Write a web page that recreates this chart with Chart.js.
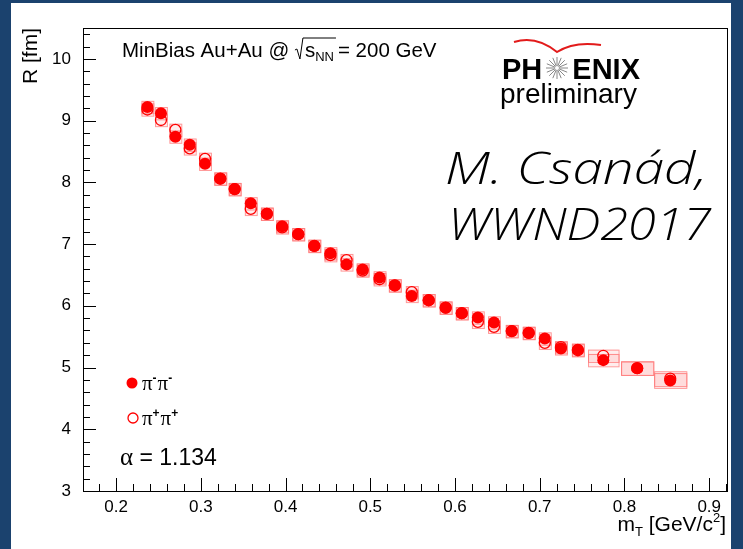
<!DOCTYPE html>
<html>
<head>
<meta charset="utf-8">
<script src="https://cdn.jsdelivr.net/npm/chart.js@4"></script>
<style>
  html, body { margin: 0; padding: 0; background: #1b426e; }
  canvas { display: block; }
</style>
</head>
<body>
<canvas id="chart-hbt" width="743" height="549"></canvas>
<script>
/* data */
const mtValues = [0.237, 0.253, 0.270, 0.287, 0.305, 0.323, 0.340, 0.359, 0.378, 0.396,
  0.415, 0.434, 0.453, 0.472, 0.491, 0.511, 0.529, 0.549, 0.569, 0.589,
  0.608, 0.627, 0.646, 0.667, 0.687, 0.706, 0.725, 0.745, 0.775, 0.815, 0.854];
const rPiMinus = [9.22, 9.12, 8.74, 8.61, 8.30, 8.06, 7.89, 7.66, 7.49, 7.29,
  7.16, 6.97, 6.85, 6.67, 6.59, 6.46, 6.33, 6.16, 6.09, 5.97,
  5.88, 5.81, 5.73, 5.59, 5.56, 5.47, 5.31, 5.29, 5.12, 4.99, 4.79];
const rPiPlus = [9.18, 9.01, 8.85, 8.55, 8.38, 8.06, 7.89, 7.57, 7.49, 7.27,
  7.16, 6.97, 6.82, 6.74, 6.57, 6.43, 6.33, 6.22, 6.09, 5.97,
  5.88, 5.74, 5.66, 5.59, 5.56, 5.40, 5.33, 5.28, 5.19, 4.99, 4.82];
// systematic boxes (half widths)
const sysMt = [0.007, 0.007, 0.007, 0.007, 0.007, 0.007, 0.007, 0.007, 0.007, 0.007,
  0.007, 0.007, 0.007, 0.007, 0.007, 0.007, 0.007, 0.007, 0.007, 0.007,
  0.007, 0.007, 0.007, 0.007, 0.007, 0.007, 0.007, 0.007, 0.018, 0.019, 0.019];
const sysR = [0.10, 0.10, 0.10, 0.10, 0.10, 0.10, 0.10, 0.10, 0.10, 0.10,
  0.10, 0.10, 0.10, 0.10, 0.10, 0.10, 0.10, 0.10, 0.10, 0.10,
  0.10, 0.10, 0.10, 0.10, 0.10, 0.10, 0.10, 0.10, 0.10, 0.11, 0.12];

const xTicks = [0.2, 0.3, 0.4, 0.5, 0.6, 0.7, 0.8, 0.9];
const yTicks = [3, 4, 5, 6, 7, 8, 9, 10];
const xRange = [0.161, 0.921];
const yRange = [3, 10.5];

const RED = '#ff0000';
const SANS = "'Liberation Sans', Arial, sans-serif";
const SERIF = "'Liberation Serif', 'Times New Roman', serif";

Chart.defaults.font.family = SANS;
Chart.defaults.color = '#000';

// blue frame + white pad
const backgroundPlugin = {
  id: 'bg',
  beforeDraw(chart) {
    const c = chart.ctx;
    c.save();
    c.fillStyle = '#1b426e';
    c.fillRect(0, 0, chart.width, chart.height);
    c.fillStyle = '#fff';
    c.fillRect(11, 3, 720, 546);
    c.restore();
  }
};

// pink systematic boxes, drawn through the scales
const sysBoxPlugin = {
  id: 'sysBoxes',
  beforeDatasetsDraw(chart) {
    const c = chart.ctx;
    const xs = chart.scales.x, ys = chart.scales.y;
    c.save();
    c.lineWidth = 1;
    [rPiMinus, rPiPlus].forEach(series => {
      series.forEach((r, i) => {
        const x0 = xs.getPixelForValue(mtValues[i] - sysMt[i]);
        const x1 = xs.getPixelForValue(mtValues[i] + sysMt[i]);
        const y0 = ys.getPixelForValue(r + sysR[i]);
        const y1 = ys.getPixelForValue(r - sysR[i]);
        c.fillStyle = 'rgba(255,0,0,0.07)';
        c.fillRect(x0, y0, x1 - x0, y1 - y0);
        c.strokeStyle = 'rgba(255,120,120,0.75)';
        c.strokeRect(x0 + 0.5, y0 + 0.5, x1 - x0, y1 - y0);
      });
    });
    c.restore();
  }
};

// ROOT style frame with inside ticks
const framePlugin = {
  id: 'frame',
  afterDraw(chart) {
    const c = chart.ctx;
    const a = chart.chartArea;
    const xs = chart.scales.x, ys = chart.scales.y;
    c.save();
    c.strokeStyle = '#000';
    c.lineWidth = 1;
    c.strokeRect(a.left + 0.5, a.top + 0.5, a.right - a.left, a.bottom - a.top);
    c.beginPath();
    for (let k = 0; k <= 37; k++) {
      const v = 3 + k * 0.2;
      if (v > yRange[1]) break;
      const y = Math.round(ys.getPixelForValue(v)) + 0.5;
      const len = (Math.abs(v - Math.round(v)) < 1e-6) ? 13 : 7;
      c.moveTo(a.left, y);
      c.lineTo(a.left + len, y);
    }
    for (let k = 0; k <= 40; k++) {
      const v = 0.16 + k * 0.02;
      if (v > xRange[1]) break;
      if (v < xRange[0]) continue;
      const x = Math.round(xs.getPixelForValue(v)) + 0.5;
      const major = Math.abs(v * 10 - Math.round(v * 10)) < 1e-6;
      c.moveTo(x, a.bottom);
      c.lineTo(x, a.bottom - (major ? 13 : 7));
    }
    c.stroke();
    c.restore();
  }
};

// labels, logo, legend and annotations
const textPlugin = {
  id: 'texts',
  afterDraw(chart) {
    const c = chart.ctx;
    c.save();
    c.fillStyle = '#000';
    c.textBaseline = 'alphabetic';
    c.textAlign = 'left';

    // y title, rotated, anchored at the top of the axis
    c.save();
    c.translate(37, 28);
    c.rotate(-Math.PI / 2);
    c.textAlign = 'right';
    c.font = `21px ${SANS}`;
    c.fillText('R [fm]', 0, 0);
    c.restore();

    // x title: m_T [GeV/c^2], right aligned
    const big = `21px ${SANS}`, small = `13px ${SANS}`;
    const parts = [['m', big, 0], ['T', small, 5], [' [GeV/c', big, 0], ['2', small, -9], [']', big, 0]];
    let total = 0;
    parts.forEach(p => { c.font = p[1]; total += c.measureText(p[0]).width; });
    let px = 726 - total;
    parts.forEach(p => { c.font = p[1]; c.fillText(p[0], px, 531 + p[2]); px += c.measureText(p[0]).width; });

    // MinBias Au+Au @ sqrt(s_NN) = 200 GeV
    const f1 = `20.5px ${SANS}`, f2 = `13px ${SANS}`;
    let tx = 122, base = 57;
    c.font = f1;
    c.fillText('MinBias Au+Au @ ', tx, base);
    tx += c.measureText('MinBias Au+Au @ ').width;
    const sW = c.measureText('s').width;
    c.font = f2;
    const nnW = c.measureText('NN').width;
    c.beginPath();
    c.lineWidth = 1;
    c.moveTo(tx, base - 7);
    c.lineTo(tx + 2, base - 8);
    c.lineTo(tx + 5, base + 2);
    c.lineTo(tx + 8, base - 19);
    c.lineTo(tx + 10 + sW + nnW + 2, base - 19);
    c.stroke();
    tx += 10;
    c.font = f1;
    c.fillText('s', tx, base);
    tx += sW;
    c.font = f2;
    c.fillText('NN', tx, base + 4);
    tx += nnW + 4;
    c.font = f1;
    c.fillText('= 200 GeV', tx, base);

    // PHENIX logo
    c.strokeStyle = '#e21b1b';
    c.lineWidth = 2;
    c.beginPath();
    c.moveTo(514, 42);
    c.quadraticCurveTo(536, 35, 557, 52);
    c.quadraticCurveTo(574, 41, 601, 45);
    c.stroke();
    c.font = `bold 29px ${SANS}`;
    c.fillText('PH', 502, 79);
    c.textAlign = 'right';
    c.fillText('ENIX', 640, 79);
    c.textAlign = 'left';
    c.strokeStyle = '#888';
    c.lineWidth = 1;
    c.beginPath();
    for (let k = 0; k < 16; k++) {
      const ang = k * Math.PI / 8;
      c.moveTo(557 + 2 * Math.cos(ang), 68 + 2 * Math.sin(ang));
      c.lineTo(557 + 11 * Math.cos(ang), 68 + 11 * Math.sin(ang));
    }
    c.stroke();
    c.font = `28px ${SANS}`;
    c.fillText('preliminary', 500, 103);

    // author stamp, stretched to the reference width
    const stamp = (txt, x0, x1, y) => {
      c.font = `italic 300 45px 'Open Sans', 'DejaVu Sans', sans-serif`;
      const w = c.measureText(txt).width;
      c.save();
      c.translate(x0, y);
      c.scale((x1 - x0) / w, 1);
      c.fillText(txt, 0, 0);
      c.restore();
    };
    stamp('M. Csanád,', 445, 707, 184);
    stamp('WWND2017', 448, 711, 240);

    // legend
    c.fillStyle = RED;
    c.beginPath();
    c.arc(132, 383, 5.5, 0, Math.PI * 2);
    c.fill();
    c.strokeStyle = RED;
    c.lineWidth = 1.3;
    c.beginPath();
    c.arc(133, 418, 5, 0, Math.PI * 2);
    c.stroke();
    c.fillStyle = '#000';
    const pion = (sign, x, y) => {
      let lx = x;
      for (let k = 0; k < 2; k++) {
        c.font = `21px ${SERIF}`;
        c.fillText('π', lx, y);
        lx += c.measureText('π').width;
        c.font = `bold 12px ${SANS}`;
        c.fillText(sign, lx, y - 8);
        lx += c.measureText(sign).width + 1;
      }
    };
    pion('-', 142, 390);
    pion('+', 142, 425);

    c.font = `25px ${SERIF}`;
    c.fillText('α', 120, 465);
    const aw = c.measureText('α').width;
    c.font = `23px ${SANS}`;
    c.fillText(' = 1.134', 120 + aw, 465);

    c.restore();
  }
};

const ctx = document.getElementById('chart-hbt');
new Chart(ctx, {
  type: 'scatter',
  data: {
    datasets: [
      {
        label: 'π+π+',
        data: mtValues.map((x, i) => ({ x, y: rPiPlus[i] })),
        pointStyle: 'circle',
        pointRadius: 5.5,
        backgroundColor: 'rgba(0,0,0,0)',
        borderColor: RED,
        borderWidth: 1.3,
      },
      {
        label: 'π-π-',
        data: mtValues.map((x, i) => ({ x, y: rPiMinus[i] })),
        pointStyle: 'circle',
        pointRadius: 6,
        backgroundColor: RED,
        borderColor: RED,
        borderWidth: 0,
      }
    ]
  },
  options: {
    responsive: false,
    animation: false,
    events: [],
    layout: { padding: { left: 0, top: 28, right: 16, bottom: 0 } },
    plugins: {
      legend: { display: false },
      tooltip: { enabled: false }
    },
    scales: {
      x: {
        type: 'linear',
        min: xRange[0],
        max: xRange[1],
        afterBuildTicks: s => { s.ticks = xTicks.map(v => ({ value: v })); },
        afterFit: s => { s.height = 58; },
        grid: { display: false, drawTicks: false },
        border: { display: false },
        ticks: {
          font: { size: 17 },
          color: '#000',
          padding: 6,
          maxRotation: 0,
          autoSkip: false,
          callback: v => v.toFixed(1)
        }
      },
      y: {
        type: 'linear',
        min: yRange[0],
        max: yRange[1],
        afterBuildTicks: s => { s.ticks = yTicks.map(v => ({ value: v })); },
        afterFit: s => { s.width = 83; },
        grid: { display: false, drawTicks: false },
        border: { display: false },
        ticks: {
          font: { size: 17 },
          color: '#000',
          padding: 12,
          autoSkip: false,
          callback: v => String(v)
        }
      }
    }
  },
  plugins: [backgroundPlugin, sysBoxPlugin, framePlugin, textPlugin]
});
</script>
</body>
</html>
